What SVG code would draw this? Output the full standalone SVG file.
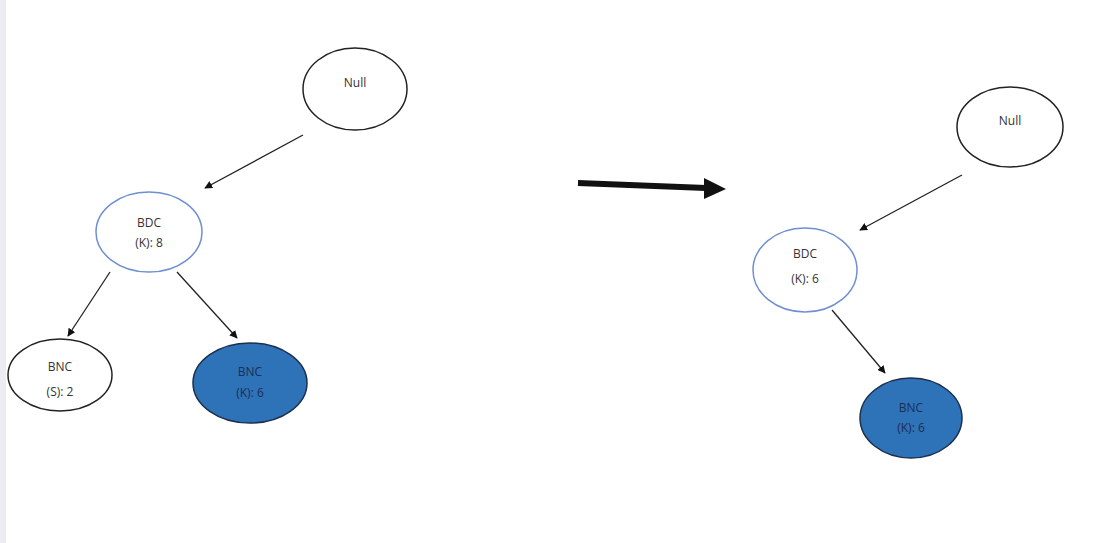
<svg xmlns="http://www.w3.org/2000/svg" width="1097" height="543" viewBox="0 0 1097 543">
  <style>
    .plain { fill: #ffffff; stroke: #222222; stroke-width: 1.5; }
    .root { fill: #ffffff; stroke: #6f8fd0; stroke-width: 1.5; }
    .leaf { fill: #2e72b8; stroke: #1c2f4d; stroke-width: 1.5; }
    .lbl { font-family: "Open Sans", "Liberation Sans", sans-serif; font-size: 12px; fill: #333333; text-anchor: middle; }
    .lbl-dark { font-family: "Open Sans", "Liberation Sans", sans-serif; font-size: 12px; fill: #1a2f52; text-anchor: middle; }
    .edge { stroke: #222222; stroke-width: 1.3; fill: none; marker-end: url(#head); }
  </style>
  <defs>
    <marker id="head" viewBox="0 0 10 10" refX="9" refY="5" markerWidth="8" markerHeight="8" markerUnits="userSpaceOnUse" orient="auto">
      <path d="M0,0 L10,5 L0,10 Z" fill="#111111"/>
    </marker>
  </defs>

  <rect x="0" y="0" width="1097" height="543" fill="#ffffff"/>
  <rect x="0" y="0" width="6" height="543" fill="#ececf2"/>

  <g id="connectors">
    <line class="edge" x1="303" y1="135" x2="205" y2="188"/>
    <line class="edge" x1="110" y1="272" x2="68" y2="336"/>
    <line class="edge" x1="177" y1="272" x2="237" y2="338"/>
    <line class="edge" x1="962" y1="175" x2="860" y2="230"/>
    <line class="edge" x1="832" y1="310" x2="885" y2="373"/>
    <!-- transition arrow between the two trees -->
    <line x1="578" y1="183" x2="706" y2="188" stroke="#111111" stroke-width="6"/>
    <path d="M704,178 L726,189 L704,199 Z" fill="#111111"/>
  </g>

  <g id="null-a">
    <ellipse class="plain" cx="355" cy="89" rx="52" ry="41"/>
    <text class="lbl" x="355" y="87">Null</text>
  </g>
  <g id="bdc-a">
    <ellipse class="root" cx="149" cy="232" rx="53" ry="40"/>
    <text class="lbl" x="149" y="227">BDC</text>
    <text class="lbl" x="149" y="247">(K): 8</text>
  </g>
  <g id="bnc-s-a">
    <ellipse class="plain" cx="60" cy="375" rx="52" ry="36"/>
    <text class="lbl" x="60" y="371">BNC</text>
    <text class="lbl" x="60" y="396">(S): 2</text>
  </g>
  <g id="bnc-k-a">
    <ellipse class="leaf" cx="250" cy="383" rx="57" ry="40"/>
    <text class="lbl-dark" x="250" y="376">BNC</text>
    <text class="lbl-dark" x="250" y="397">(K): 6</text>
  </g>

  <g id="null-b">
    <ellipse class="plain" cx="1010" cy="127" rx="53" ry="40"/>
    <text class="lbl" x="1010" y="125">Null</text>
  </g>
  <g id="bdc-b">
    <ellipse class="root" cx="805" cy="270" rx="52" ry="42"/>
    <text class="lbl" x="805" y="258">BDC</text>
    <text class="lbl" x="805" y="283">(K): 6</text>
  </g>
  <g id="bnc-k-b">
    <ellipse class="leaf" cx="911" cy="418" rx="51" ry="40"/>
    <text class="lbl-dark" x="911" y="412">BNC</text>
    <text class="lbl-dark" x="911" y="432">(K): 6</text>
  </g>
</svg>
